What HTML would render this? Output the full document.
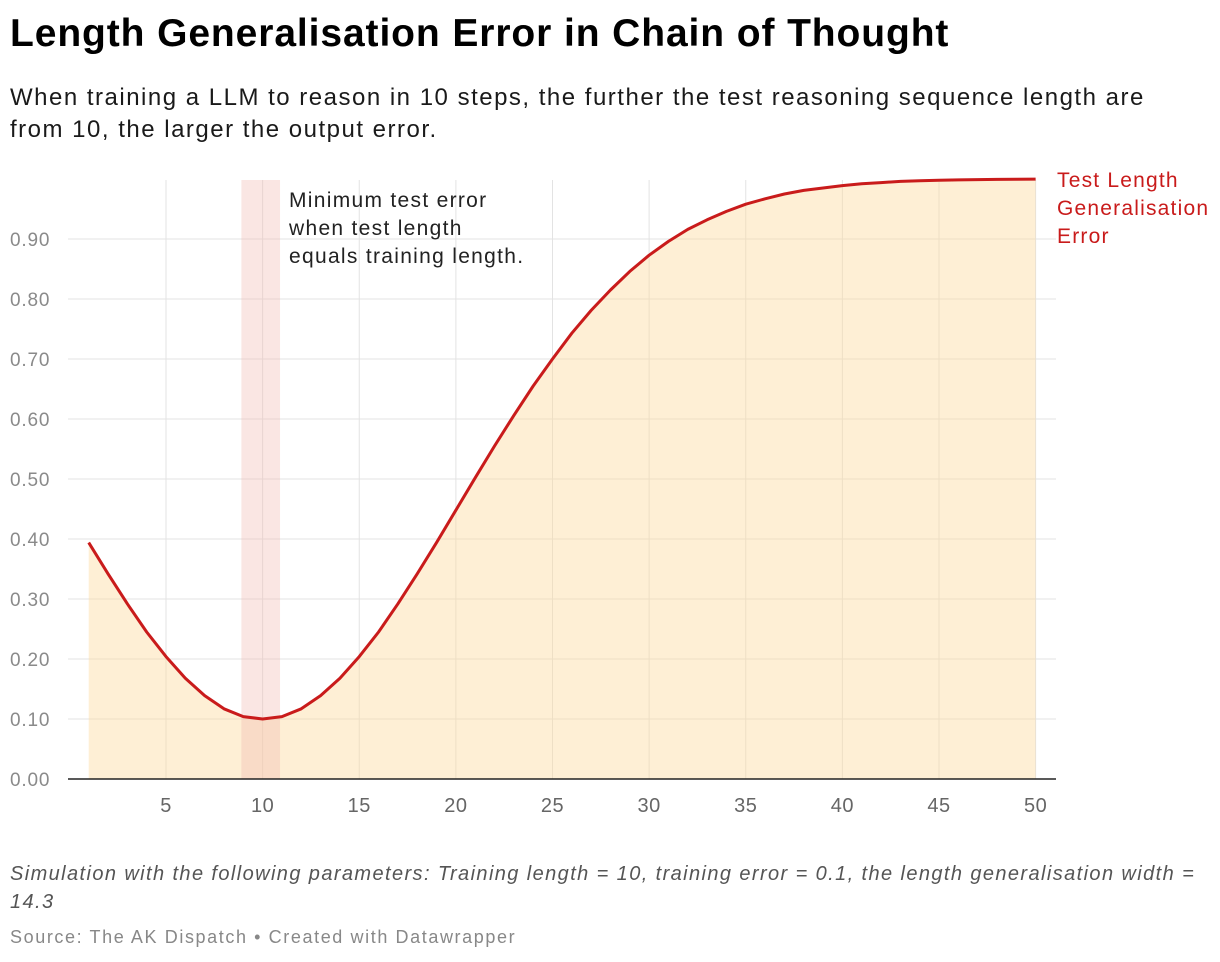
<!DOCTYPE html>
<html><head><meta charset="utf-8"><style>
body{margin:0;background:#fff;font-family:"Liberation Sans",Roboto,sans-serif;}
#wrap{position:relative;width:1220px;height:962px;overflow:hidden}
.t{position:absolute;white-space:nowrap}
</style></head><body>
<div id="wrap">
<div class="t" style="left:10px;top:12px;font-size:39px;font-weight:bold;color:#000;letter-spacing:0.9px">Length Generalisation Error in Chain of Thought</div>
<div class="t" style="left:10px;top:82px;font-size:24px;line-height:32px;color:#1a1a1a;letter-spacing:1.5px">When training a LLM to reason in 10 steps, the further the test reasoning sequence length are<br>from 10, the larger the output error.</div>
<svg id="chart" width="1220" height="962" style="position:absolute;left:0;top:0"></svg>
<div class="t" style="left:10px;top:860px;font-size:20px;line-height:28px;font-style:italic;color:#555;letter-spacing:1.4px">Simulation with the following parameters: Training length = 10, training error = 0.1, the length generalisation width =<br>14.3</div>
<div class="t" style="left:10px;top:927px;font-size:18px;color:#888;letter-spacing:1.6px">Source: The AK Dispatch • Created with Datawrapper</div>
</div>
<script>
const xValues=[];for(let i=1;i<=50;i++)xValues.push(i);
const errorValues=[0.394,0.342,0.292,0.245,0.204,0.168,0.139,0.117,0.104,0.100,0.104,0.117,0.139,0.168,0.204,0.245,0.292,0.342,0.394,0.448,0.502,0.555,0.606,0.655,0.700,0.743,0.781,0.815,0.846,0.873,0.896,0.916,0.932,0.946,0.958,0.967,0.975,0.981,0.985,0.989,0.992,0.994,0.996,0.997,0.998,0.9985,0.999,0.9993,0.9995,0.9997];
const yTicks=[0,0.1,0.2,0.3,0.4,0.5,0.6,0.7,0.8,0.9];
const yTickLabels=["0.00","0.10","0.20","0.30","0.40","0.50","0.60","0.70","0.80","0.90"];
const xTicks=[5,10,15,20,25,30,35,40,45,50];
const highlightRange=[8.9,10.9];
const X=v=>166+(v-5)*19.325;
const Y=v=>779-v*600;
const svg=document.getElementById('chart');
const NS='http://www.w3.org/2000/svg';
function mk(tag,attrs){const e=document.createElementNS(NS,tag);for(const k in attrs)e.setAttribute(k,attrs[k]);svg.appendChild(e);return e;}
yTicks.forEach((t,i)=>{
 if(t>0){const g=mk('line',{x1:68,x2:1056,y1:Y(t),y2:Y(t),stroke:'#e3e3e3','stroke-width':1});
 
 }
 const l=mk('text',{x:10,y:Y(t)+7,'font-size':19,fill:'#8a8a8a','font-family':'Liberation Sans, sans-serif','letter-spacing':0.8});
 
 
 l.textContent=yTickLabels[i];
});
xTicks.forEach(t=>{
 const g=mk('line',{x1:X(t),x2:X(t),y1:180,y2:779,stroke:'#e3e3e3','stroke-width':1});
 
 
 const l=mk('text',{x:X(t),y:812,'font-size':20,fill:'#666','text-anchor':'middle','font-family':'Liberation Sans, sans-serif','letter-spacing':0.5});
 
 
 l.textContent=t;
});
let d='M'+X(xValues[0])+','+Y(0);
xValues.forEach((x,i)=>d+=' L'+X(x)+','+Y(errorValues[i]));
d+=' L'+X(xValues[xValues.length-1])+','+Y(0)+'Z';
const area=mk('path',{d:d,fill:'#fdd99a','fill-opacity':0.42});


const hb=mk('rect',{x:X(highlightRange[0]),y:180,width:X(highlightRange[1])-X(highlightRange[0]),height:599,fill:'#f0b8b0','fill-opacity':0.35});


const ax=mk('line',{x1:68,x2:1056,y1:779,y2:779,stroke:'#222','stroke-width':1.5});


const line=mk('path',{d:'M'+xValues.map((x,i)=>X(x)+','+Y(errorValues[i])).join(' L'),fill:'none',stroke:'#c91b1b','stroke-width':3,'stroke-linejoin':'round'});


function txt(lines,x,y0,color,name,ls){lines.forEach((s,i)=>{const t=mk('text',{x:x,y:y0+i*28,'font-size':21,fill:color,'font-family':'Liberation Sans, sans-serif','letter-spacing':ls});
 
 
 t.textContent=s;});}
txt(['Minimum test error','when test length','equals training length.'],289,207,'#222','annotation',1.3);
txt(['Test Length','Generalisation','Error'],1057,187,'#c91b1b','series-label',1.2);
</script>
</body></html>
